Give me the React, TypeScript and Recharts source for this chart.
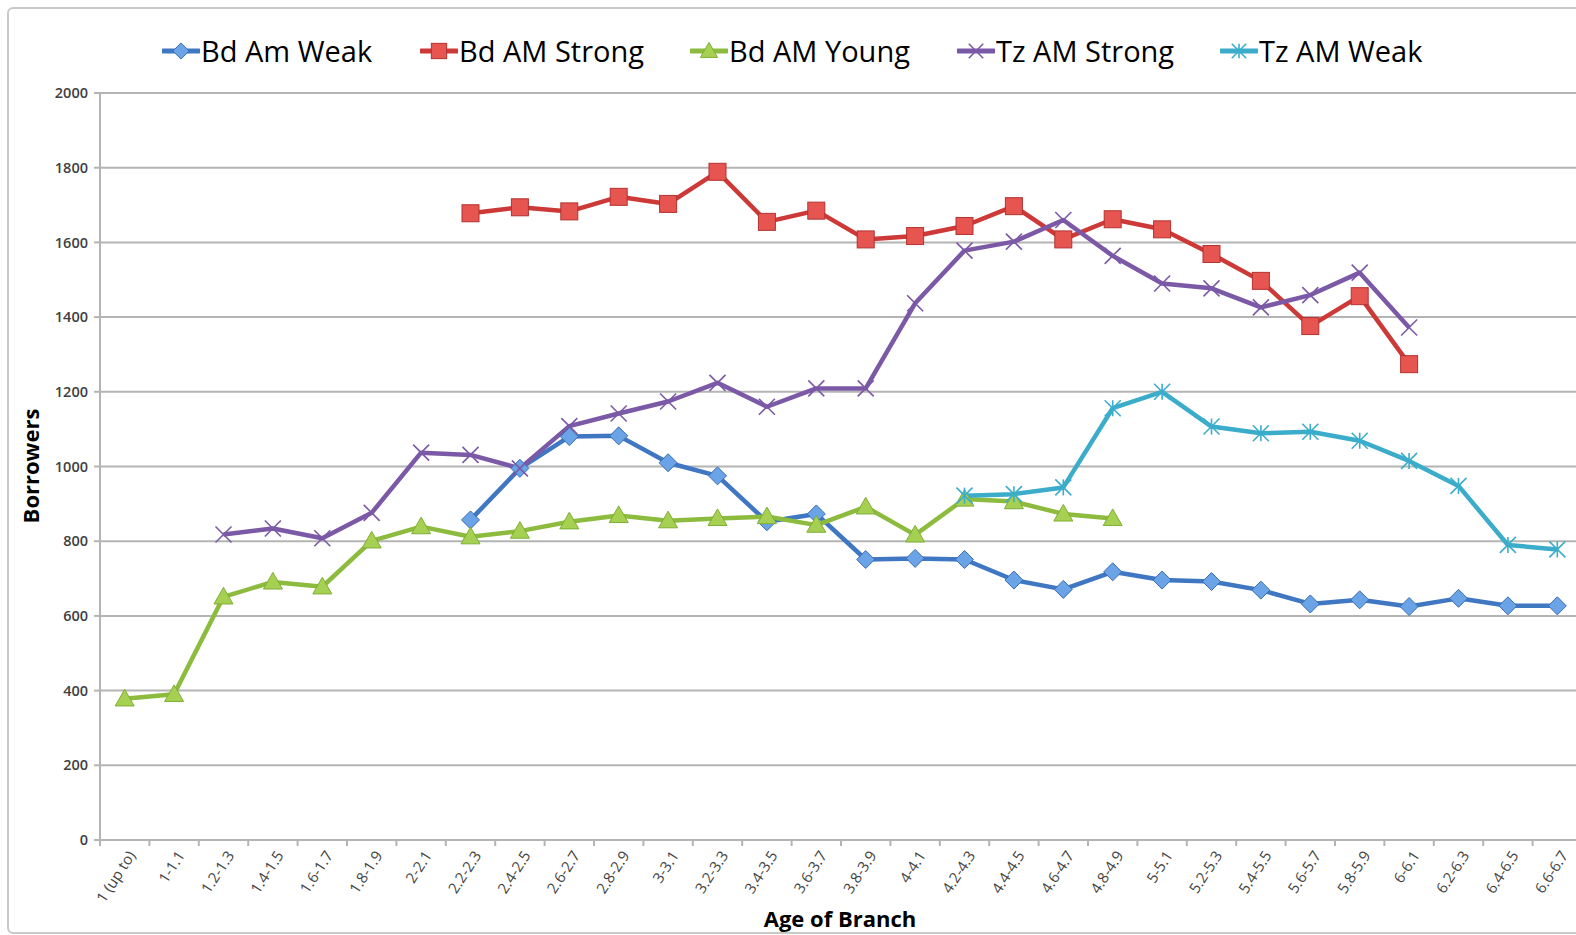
import React from "react";
import { LineChart, Line, XAxis, YAxis, CartesianGrid } from "recharts";

const CATEGORIES = [
  "1 (up to)", "1-1.1", "1.2-1.3", "1.4-1.5", "1.6-1.7", "1.8-1.9", "2-2.1", "2.2-2.3",
  "2.4-2.5", "2.6-2.7", "2.8-2.9", "3-3.1", "3.2-3.3", "3.4-3.5", "3.6-3.7", "3.8-3.9",
  "4-4.1", "4.2-4.3", "4.4-4.5", "4.6-4.7", "4.8-4.9", "5-5.1", "5.2-5.3", "5.4-5.5",
  "5.6-5.7", "5.8-5.9", "6-6.1", "6.2-6.3", "6.4-6.5", "6.6-6.7",
];

const N = null;

const BD_AM_WEAK = [
  N, N, N, N, N, N, N,
  857, 995, 1080, 1082, 1010, 975, 852, 873, 751, 754, 751, 696, 671, 718,
  696, 692, 669, 632, 643, 625, 647, 627, 627,
];
const BD_AM_STRONG = [
  N, N, N, N, N, N, N,
  1678, 1694, 1683, 1722, 1703, 1789, 1655, 1685, 1608, 1617, 1644, 1697, 1608, 1662,
  1635, 1569, 1497, 1376, 1456, 1274, N, N, N,
];
const BD_AM_YOUNG = [
  378, 390, 651, 691, 678, 801, 839, 812, 827, 852, 869, 855, 861, 866, 843, 892,
  817, 913, 906, 873, 861, N, N, N, N, N, N, N, N, N,
];
const TZ_AM_STRONG = [
  N, N,
  818, 834, 808, 876, 1037, 1031, 995, 1108, 1142, 1174, 1224, 1160, 1209, 1209,
  1437, 1578, 1602, 1660, 1564, 1490, 1477, 1426, 1459, 1519, 1372, N, N, N,
];
const TZ_AM_WEAK = [
  N, N, N, N, N, N, N, N, N, N, N, N, N, N, N, N, N,
  922, 926, 944, 1156, 1200, 1107, 1089, 1093, 1069, 1015, 948, 790, 778,
];

const Y_TICKS = [0, 200, 400, 600, 800, 1000, 1200, 1400, 1600, 1800, 2000];

const SERIES = [
  { key: "bdWeak", name: "Bd Am Weak", values: BD_AM_WEAK, color: "#3f77c2", fill: "#6aa3e6", edge: "#3a6db3", shape: "diamond", legendX: 162 },
  { key: "bdStrong", name: "Bd AM Strong", values: BD_AM_STRONG, color: "#cc3936", fill: "#e65550", edge: "#b23330", shape: "square", legendX: 420 },
  { key: "bdYoung", name: "Bd AM Young", values: BD_AM_YOUNG, color: "#8cbb3e", fill: "#a6d052", edge: "#7fae36", shape: "triangle", legendX: 690 },
  { key: "tzStrong", name: "Tz AM Strong", values: TZ_AM_STRONG, color: "#7b59a6", fill: "#7b59a6", edge: "#6a4c93", shape: "x", legendX: 957 },
  { key: "tzWeak", name: "Tz AM Weak", values: TZ_AM_WEAK, color: "#3badcb", fill: "#3badcb", edge: "#3399b5", shape: "star", legendX: 1220 },
];

const data = CATEGORIES.map((label, i) => {
  const row: Record<string, any> = { label };
  SERIES.forEach((s) => { row[s.key] = s.values[i]; });
  return row;
});

const CHART_W = 1600;
const PLOT_L = 100;
const PLOT_R = 1582;
const HALF_STEP = (PLOT_R - PLOT_L) / CATEGORIES.length / 2;
const GRID = "#b4b4b4";
const FONT = "'Open Sans', 'Liberation Sans', sans-serif";

function Marker({ shape, cx, cy, fill, edge, scale = 1 }: any) {
  if (shape === "diamond") {
    const r = 9 * scale;
    return <polygon points={`${cx},${cy - r} ${cx + r},${cy} ${cx},${cy + r} ${cx - r},${cy}`} fill={fill} stroke={edge} strokeWidth={1} />;
  }
  if (shape === "square") {
    const r = 8.5 * scale;
    return <rect x={cx - r} y={cy - r} width={r * 2} height={r * 2} fill={fill} stroke={edge} strokeWidth={1} />;
  }
  if (shape === "triangle") {
    const r = 9.5 * scale;
    return <polygon points={`${cx},${cy - r} ${cx + r},${cy + r * 0.75} ${cx - r},${cy + r * 0.75}`} fill={fill} stroke={edge} strokeWidth={1} />;
  }
  const r = 8 * scale;
  return (
    <g stroke={fill} strokeWidth={1.6}>
      <line x1={cx - r} y1={cy - r} x2={cx + r} y2={cy + r} />
      <line x1={cx - r} y1={cy + r} x2={cx + r} y2={cy - r} />
      {shape === "star" && <line x1={cx} y1={cy - r} x2={cx} y2={cy + r} />}
    </g>
  );
}

function makeDot(s: (typeof SERIES)[number]) {
  return (props: any) => {
    const { cx, cy, value, index } = props;
    if (value == null || cx == null || cy == null) return <g key={`${s.key}-${index}`} />;
    return (
      <g key={`${s.key}-${index}`}>
        <Marker shape={s.shape} cx={cx} cy={cy} fill={s.fill} edge={s.edge} />
      </g>
    );
  };
}

function XTick({ x, y, payload, index }: any) {
  const isLast = index === CATEGORIES.length - 1;
  const tx = x + 8;
  const ty = y + 5;
  return (
    <g>
      <line x1={x - HALF_STEP} y1={y - 8} x2={x - HALF_STEP} y2={y - 2} stroke={GRID} strokeWidth={2} />
      {isLast && <line x1={x + HALF_STEP} y1={y - 8} x2={x + HALF_STEP} y2={y - 2} stroke={GRID} strokeWidth={2} />}
      <text
        x={tx}
        y={ty}
        transform={`rotate(-57, ${tx}, ${ty})`}
        textAnchor="end"
        fontSize={15}
        fontFamily={FONT}
        fill="#444"
        dominantBaseline="middle"
      >
        {payload.value}
      </text>
    </g>
  );
}

function LegendIcon({ s }: any) {
  return (
    <svg width={38} height={24} style={{ display: "block" }}>
      <line x1={1} y1={12} x2={37} y2={12} stroke={s.color} strokeWidth={5} strokeLinecap="round" />
      <Marker shape={s.shape} cx={19} cy={12} fill={s.fill} edge={s.edge} scale={0.9} />
    </svg>
  );
}

export default function App() {
  return (
    <div style={{ position: "fixed", left: 0, top: 0, width: 1576, height: 935, overflow: "hidden", background: "#fff" }}>
      <div
        style={{
          position: "absolute", left: 7, top: 7, width: 1640, height: 927,
          border: "2px solid #c9c9c9", borderRadius: 6, boxSizing: "border-box",
        }}
      />
      {SERIES.map((s) => (
        <div
          key={s.key}
          style={{
            position: "absolute", left: s.legendX, top: 31, display: "flex", alignItems: "center",
            fontFamily: FONT, fontSize: 29, color: "#000", whiteSpace: "nowrap", lineHeight: "40px",
          }}
        >
          <LegendIcon s={s} />
          <span style={{ marginLeft: 1 }}>{s.name}</span>
        </div>
      ))}
      <div
        style={{
          position: "absolute", left: 30, top: 466, transform: "translate(-50%, -50%) rotate(-90deg)",
          fontFamily: FONT, fontWeight: 700, fontSize: 22, color: "#000", whiteSpace: "nowrap",
        }}
      >
        Borrowers
      </div>
      <div
        style={{
          position: "absolute", left: 840, top: 918, transform: "translate(-50%, -50%)",
          fontFamily: FONT, fontWeight: 700, fontSize: 22, color: "#000", whiteSpace: "nowrap",
        }}
      >
        Age of Branch
      </div>
      <div style={{ position: "absolute", left: 0, top: 0 }}>
        <LineChart
          width={CHART_W}
          height={935}
          data={data}
          margin={{ top: 93, right: CHART_W - PLOT_R, bottom: 35, left: 0 }}
        >
          <CartesianGrid horizontal vertical={false} stroke={GRID} strokeWidth={2} />
          <XAxis
            dataKey="label"
            interval={0}
            height={60}
            padding={{ left: HALF_STEP, right: HALF_STEP }}
            tickLine={false}
            axisLine={{ stroke: GRID, strokeWidth: 2 }}
            tick={<XTick />}
          />
          <YAxis
            width={PLOT_L}
            domain={[0, 2000]}
            ticks={Y_TICKS}
            interval={0}
            tickSize={6}
            tickLine={{ stroke: GRID, strokeWidth: 2 }}
            axisLine={{ stroke: GRID, strokeWidth: 2 }}
            tick={{ fontSize: 14.5, fontFamily: FONT, fontWeight: 600, fill: "#404040" }}
            tickMargin={6}
          />
          {SERIES.map((s) => (
            <Line
              key={s.key}
              dataKey={s.key}
              name={s.name}
              stroke={s.color}
              strokeWidth={4.5}
              strokeLinejoin="round"
              dot={makeDot(s)}
              activeDot={false}
              isAnimationActive={false}
            />
          ))}
        </LineChart>
      </div>
    </div>
  );
}
